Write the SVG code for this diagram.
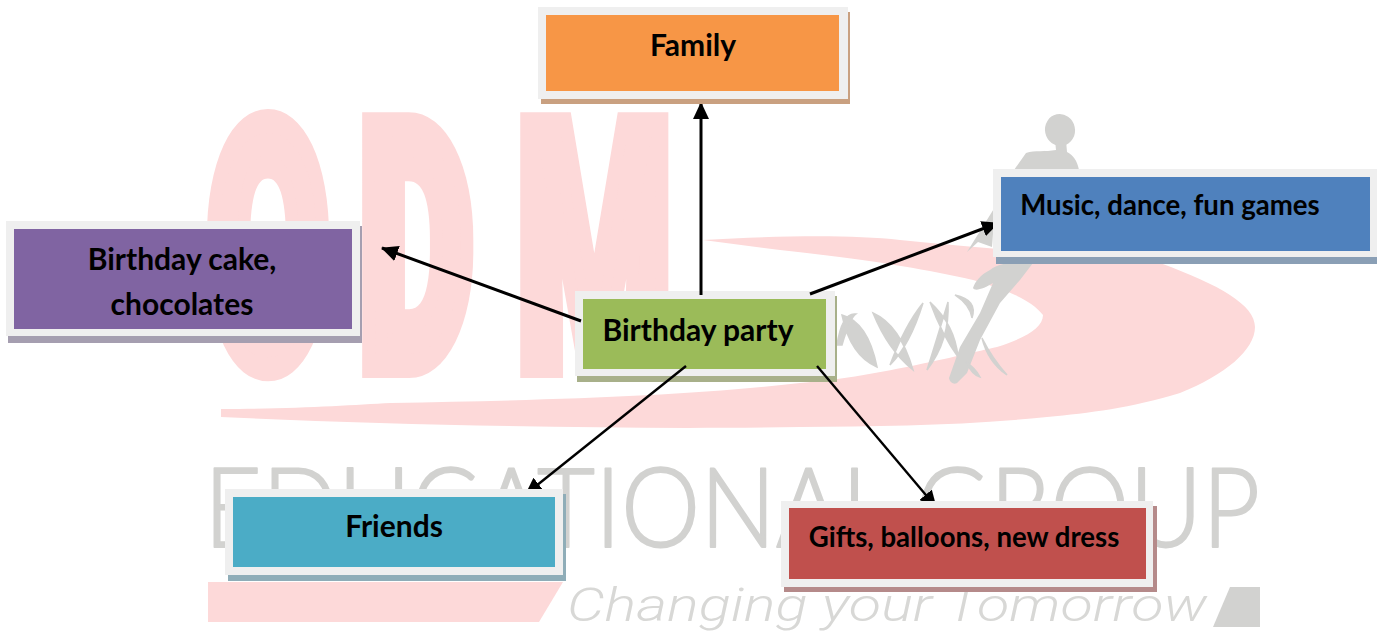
<svg xmlns="http://www.w3.org/2000/svg" width="1377" height="631" viewBox="0 0 1377 631">
<style>
.o{fill:#efefef}
.lbl{font-family:"Lato","Liberation Sans",sans-serif;font-weight:700;font-size:30px;fill:#000;text-anchor:middle}
.sm{font-size:27.6px}
.arrow{fill:none;stroke:#000;stroke-width:3;marker-end:url(#ah)}
.thin{stroke-width:2.4}
.pink{fill:#fdd9d9}
.grey{fill:#d2d2d0}
</style>
<defs>
<marker id="ah" markerUnits="userSpaceOnUse" markerWidth="18" markerHeight="16" refX="16" refY="8" orient="auto"><path d="M0 0L17 8L0 16Z" fill="#000"/></marker>
</defs>
<rect width="1377" height="631" fill="#fff"/>
<g id="watermark">
<text transform="translate(207 366) scale(0.52 1)" x="0 292 596" y="0" font-family="Roboto,Liberation Sans,sans-serif" font-weight="900" font-size="340" class="pink" stroke="#fdd9d9" stroke-width="24">ODM</text>
<path class="pink" d="M703 240C770 236 850 234 900 240C1000 250 1090 256 1160 263C1220 285 1255 305 1255 327C1255 350 1225 375 1180 393C1130 408 1090 413 1047 417C960 426 880 426 800 427C620 430 400 425 221 417L221 409C300 409 350 405 391 403C560 400 690 396 800 383C870 378 960 355 997 347C1025 338 1043 328 1043 315C1030 298 1000 288 973 280C920 268 870 260 780 250Z"/>
<path class="pink" d="M208 582H563L539 622H208Z"/>
<ellipse class="grey" cx="1060" cy="130" rx="15" ry="16" transform="rotate(-12 1060 130)"/>
<path class="grey" d="M1055 140H1066L1067 152C1073 155 1077 160 1079 170H1014L1026 153C1035 150 1045 152 1056 150Z"/>
<path class="grey" d="M995 207L967 252L978 242L992 247Z"/>
<path class="grey" d="M1033 263C1015 262 1000 262 990 270C980 275 975 282 973 288C975 292 985 288 993 283L980 313L960 347L949 378C950 384 956 385 958 382L967 373L980 340L1000 303L1020 280Z"/>
<path class="grey" stroke="#d2d2d0" stroke-width="1.5" d="M837 345Q842 312 856 314Q850 318 842 345ZM842 315Q868 322 877 367Q850 355 842 315ZM873 313Q900 325 913 370Q888 350 873 313ZM890 365Q910 345 923 303Q905 325 890 365ZM930 302Q955 325 958 357Q942 335 930 302ZM927 370Q950 340 948 302Q935 345 927 370ZM955 295Q978 300 972 318Q970 305 955 295ZM967 363Q972 375 980 377Q975 368 967 363ZM982 338Q988 362 1007 375Q992 358 982 338Z"/>
<text x="204" y="547" textLength="1056" lengthAdjust="spacingAndGlyphs" font-family="Lato,Liberation Sans,sans-serif" font-weight="300" font-size="111" class="grey" stroke="#d2d2d0" stroke-width="2" stroke-linejoin="round">EDUCATIONAL GROUP</text>
<text x="567" y="621" textLength="640" lengthAdjust="spacingAndGlyphs" font-family="Roboto,Liberation Sans,sans-serif" font-style="italic" font-weight="300" font-size="47" fill="#d8d8d6">Changing your Tomorrow</text>
<path class="grey" d="M1230 587H1260V627H1213Z"/>
</g>
<g id="party"><rect x="577" y="296" width="260" height="86" fill="#a8b08a"/><rect class="o" x="575" y="291" width="260" height="85"/><rect x="583" y="299" width="243" height="70" fill="#9bbb59"/><text class="lbl" x="698" y="341">Birthday party</text></g>
<g id="connectors">
<path class="arrow" d="M701 295V103"/>
<path class="arrow" d="M581 321L382 248"/>
<path class="arrow" d="M810 294L998 223"/>
<path class="arrow thin" d="M686 366L526 494"/>
<path class="arrow thin" d="M817 366L936 507"/>
</g>
<g id="family"><rect x="541" y="12" width="309" height="92" fill="#c9a080"/><rect class="o" x="538" y="7" width="310" height="92"/><rect x="546" y="15" width="293" height="76" fill="#f79646"/><text class="lbl" x="693" y="56">Family</text></g>
<g id="music"><rect x="996" y="174" width="381" height="90" fill="#8a9fb5"/><rect class="o" x="993" y="169" width="384" height="88"/><rect x="1001" y="177" width="369" height="74" fill="#4f81bd"/><text class="lbl sm" x="1170" y="215">Music, dance, fun games</text></g>
<g id="cake"><rect x="8" y="226" width="354" height="117" fill="#a59eb0"/><rect class="o" x="6" y="221" width="354" height="115"/><rect x="14" y="229" width="338" height="100" fill="#8064a2"/><text class="lbl" x="182" y="270">Birthday cake,</text><text class="lbl" x="182" y="315">chocolates</text></g>
<g id="friends"><rect x="228" y="494" width="338" height="87" fill="#8fadb8"/><rect class="o" x="225" y="489" width="338" height="86"/><rect x="233" y="497" width="322" height="70" fill="#4bacc6"/><text class="lbl" x="394" y="537">Friends</text></g>
<g id="gifts"><rect x="784" y="506" width="373" height="86" fill="#b58a8a"/><rect class="o" x="781" y="501" width="372" height="86"/><rect x="789" y="508" width="357" height="71" fill="#c0504d"/><text class="lbl sm" x="964" y="547">Gifts, balloons, new dress</text></g>
</svg>
